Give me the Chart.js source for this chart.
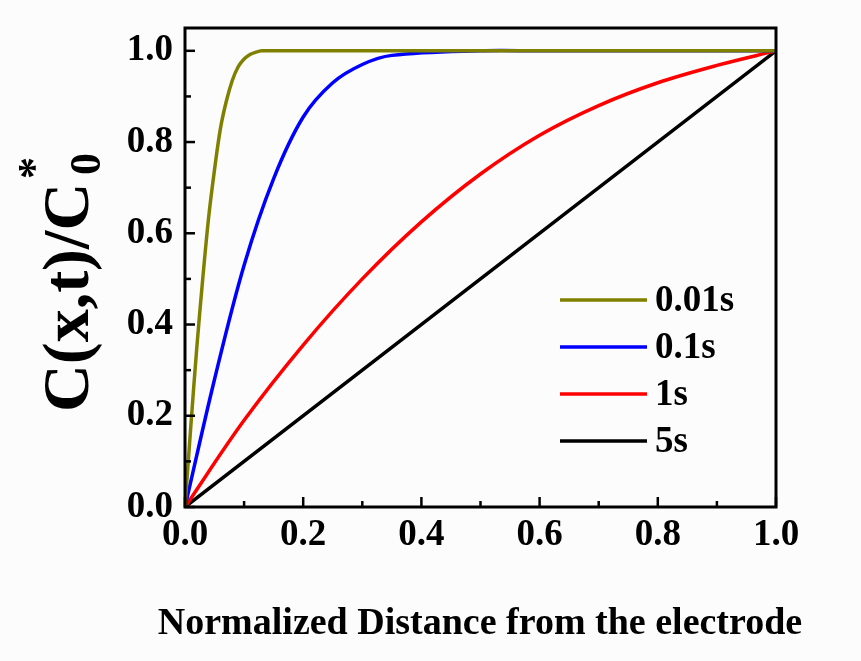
<!DOCTYPE html>
<html>
<head>
<meta charset="utf-8">
<script src="https://cdn.jsdelivr.net/npm/chart.js@4/dist/chart.umd.min.js"></script>
<style>
  html, body { margin: 0; padding: 0; background: #fcfcfc; }
  #wrap { width: 861px; height: 661px; }
</style>
</head>
<body>
<div id="wrap"><canvas id="chart" width="861" height="661"></canvas></div>
<script>
// series
const labels = ['0.01s', '0.1s', '1s', '5s'];
const colors = ['#808000', '#0000ff', '#ff0000', '#000000'];

const dist001 = [0, 0.01, 0.02, 0.03, 0.04, 0.05, 0.06, 0.07, 0.08, 0.09, 0.10, 0.11, 0.12, 0.13, 0.15, 0.2, 0.3, 0.4, 0.5, 0.6, 0.7, 0.8, 0.9, 1.0];
const conc001 = [0, 0.18, 0.35, 0.50, 0.635, 0.74, 0.83, 0.89, 0.935, 0.965, 0.982, 0.992, 0.997, 1, 1, 1, 1, 1, 1, 1, 1, 1, 1, 1];

const dist01 = [0, 0.05, 0.1, 0.15, 0.2, 0.25, 0.3, 0.35, 0.5, 0.6, 0.8, 1.0];
const conc01 = [0, 0.28, 0.53, 0.72, 0.855, 0.93, 0.97, 0.99, 1, 1, 1, 1];

const dist1 = [0, 0.1, 0.2, 0.3, 0.4, 0.5, 0.6, 0.7, 0.8, 0.9, 1.0];
const conc1 = [0, 0.19, 0.355, 0.50, 0.625, 0.73, 0.815, 0.88, 0.93, 0.968, 1.0];

const dist5 = [0, 1.0];
const conc5 = [0, 1.0];

const xTickValues = [0, 0.1, 0.2, 0.3, 0.4, 0.5, 0.6, 0.7, 0.8, 0.9, 1.0];
const yTickValues = [0, 0.1, 0.2, 0.3, 0.4, 0.5, 0.6, 0.7, 0.8, 0.9, 1.0];

const xTitle = 'Normalized Distance from the electrode';

const serif = '"Liberation Serif", "Times New Roman", serif';

function toPoints(xs, ys) {
  return xs.map((x, i) => ({ x: x, y: ys[i] }));
}

const series = [
  toPoints(dist001, conc001),
  toPoints(dist01, conc01),
  toPoints(dist1, conc1),
  toPoints(dist5, conc5)
];

// background, frame, inward ticks, legend and axis titles
const decor = {
  id: 'decor',
  beforeDraw(chart) {
    const ctx = chart.ctx;
    ctx.save();
    ctx.fillStyle = '#fcfcfc';
    ctx.fillRect(0, 0, chart.width, chart.height);
    ctx.restore();
  },
  afterDatasetsDraw(chart) {
    const ctx = chart.ctx;
    const a = chart.chartArea;
    const xs = chart.scales.x, ys = chart.scales.y;
    ctx.save();
    ctx.strokeStyle = '#000';
    ctx.lineWidth = 3;
    ctx.strokeRect(a.left, a.top, a.right - a.left, a.bottom - a.top);

    ctx.lineWidth = 2.5;
    xTickValues.forEach((v, i) => {
      const px = xs.getPixelForValue(v);
      const len = i % 2 === 0 ? 10 : 6;
      ctx.beginPath();
      ctx.moveTo(px, a.bottom);
      ctx.lineTo(px, a.bottom - len);
      ctx.stroke();
    });
    yTickValues.forEach((v, i) => {
      const py = ys.getPixelForValue(v);
      const len = i % 2 === 0 ? 10 : 6;
      ctx.beginPath();
      ctx.moveTo(a.left, py);
      ctx.lineTo(a.left + len, py);
      ctx.stroke();
    });

    // legend
    ctx.font = 'bold 37px ' + serif;
    ctx.textBaseline = 'middle';
    ctx.textAlign = 'left';
    chart.data.datasets.forEach((ds, i) => {
      const y = 300 + i * 47;
      ctx.strokeStyle = ds.borderColor;
      ctx.lineWidth = 3.5;
      ctx.beginPath();
      ctx.moveTo(560, y);
      ctx.lineTo(647, y);
      ctx.stroke();
      ctx.fillStyle = '#000';
      ctx.fillText(ds.label, 655, y + 1);
    });

    // x title
    ctx.fillStyle = '#000';
    ctx.textAlign = 'center';
    ctx.textBaseline = 'alphabetic';
    ctx.font = 'bold 38px ' + serif;
    ctx.fillText(xTitle, 480, 634);

    // y title: C(x,t)/C0*
    ctx.textAlign = 'left';
    ctx.translate(88, 412);
    ctx.rotate(-Math.PI / 2);
    ctx.font = 'bold 66px ' + serif;
    const main = 'C(x,t)/C';
    ctx.fillText(main, 0, 0);
    const w = ctx.measureText(main).width;
    ctx.font = 'bold 44px ' + serif;
    ctx.fillText('0', w + 8, 12);
    ctx.fillText('*', w + 4, -40);
    ctx.restore();
  }
};

new Chart(document.getElementById('chart'), {
  type: 'scatter',
  data: {
    datasets: series.map((pts, i) => ({
      label: labels[i],
      data: pts,
      showLine: true,
      borderColor: colors[i],
      backgroundColor: colors[i],
      borderWidth: 3.5,
      pointRadius: 0,
      tension: 0.35
    }))
  },
  options: {
    responsive: false,
    animation: false,
    layout: { padding: { top: 28, right: 85, left: 0, bottom: 0 } },
    plugins: { legend: { display: false }, tooltip: { enabled: false } },
    scales: {
      x: {
        type: 'linear',
        min: 0, max: 1,
        afterFit(scale) {
          scale.height = 661 - 507;
          scale.paddingLeft = 0;
          scale.paddingRight = 0;
        },
        grid: { display: false, drawTicks: false, tickLength: 0 },
        border: { display: false },
        ticks: {
          stepSize: 0.2,
          padding: 6,
          color: '#000',
          font: { family: serif, size: 37, weight: 'bold' },
          callback: v => v.toFixed(1)
        }
      },
      y: {
        type: 'linear',
        min: 0, max: 1.05,
        afterFit(scale) {
          scale.width = 185;
          scale.paddingTop = 0;
          scale.paddingBottom = 0;
        },
        grid: { display: false, drawTicks: false, tickLength: 0 },
        border: { display: false },
        ticks: {
          stepSize: 0.2,
          includeBounds: false,
          padding: 12,
          color: '#000',
          font: { family: serif, size: 37, weight: 'bold' },
          callback: v => v.toFixed(1)
        }
      }
    }
  },
  plugins: [decor]
});
</script>
</body>
</html>
